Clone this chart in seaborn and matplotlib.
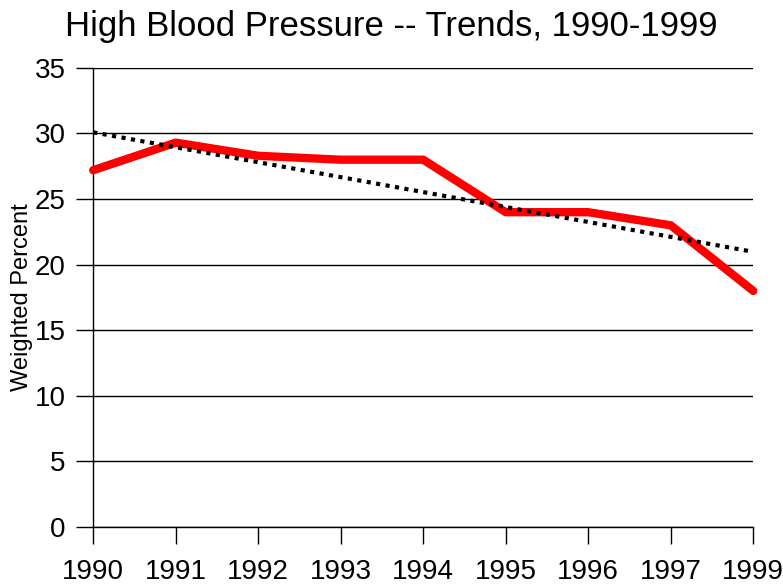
import numpy as np
import pandas as pd
import seaborn as sns
import matplotlib.pyplot as plt

# datos (1998 no aparece en el eje)
years = ["1990", "1991", "1992", "1993", "1994", "1995", "1996", "1997", "1999"]
percent = [27.2, 29.3, 28.3, 28.0, 28.0, 24.0, 24.0, 23.0, 18.0]
y_ticks = [0, 5, 10, 15, 20, 25, 30, 35]

df = pd.DataFrame({"pos": np.arange(len(years)), "year": years, "percent": percent})

sns.set_style("white")
plt.rcParams["font.family"] = ["Liberation Sans", "DejaVu Sans"]
plt.rcParams["text.color"] = "black"
plt.rcParams["xtick.color"] = "black"
plt.rcParams["ytick.color"] = "black"
plt.rcParams["axes.labelcolor"] = "black"

fig = plt.figure(figsize=(7.83, 5.85), dpi=100)
ax = fig.add_axes([0.119, 0.099, 0.843, 0.785])

# linea de datos
sns.lineplot(data=df, x="pos", y="percent", color="#FF0000", linewidth=6,
             ax=ax, clip_on=False, zorder=3)

# linea de tendencia (ajuste lineal)
sns.regplot(data=df, x="pos", y="percent", ci=None, scatter=False, ax=ax,
            line_kws={"color": "black", "linewidth": 3, "linestyle": (0, (1, 1.3)),
                      "zorder": 4})

ax.set_xlim(0, len(years) - 1)
ax.set_ylim(0, 35)
ax.set_xticks(df["pos"])
ax.set_xticklabels(years)
ax.set_yticks(y_ticks)
ax.yaxis.grid(True, color="black", linewidth=1)
ax.set_axisbelow(True)

for side in ["top", "right"]:
    ax.spines[side].set_visible(False)
for side in ["left", "bottom"]:
    ax.spines[side].set_color("black")
    ax.spines[side].set_linewidth(1)

ax.tick_params(axis="x", direction="out", length=12, width=1, colors="black",
               labelsize=20, pad=11, bottom=True)
ax.tick_params(axis="y", direction="out", length=12, width=1, colors="black",
               labelsize=20, pad=8, left=True)

ax.set_xlabel("")
ax.set_ylabel("Weighted Percent", fontsize=17, labelpad=1, color="black")
fig.text(0.5, 0.955, "High Blood Pressure -- Trends, 1990-1999",
         ha="center", va="center", fontsize=25, color="black")

plt.savefig("out.png", dpi=100)
